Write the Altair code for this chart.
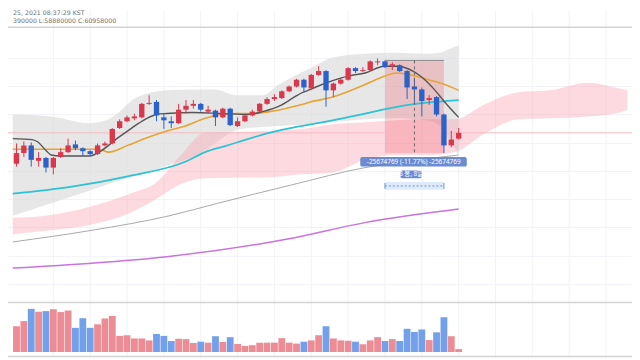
import altair as alt
import pandas as pd

# ---------------- data (price in 10,000 KRW units) ----------------
idx = list(range(61))
opens = [5840, 5928, 5992, 5864, 5888, 5808, 5896, 5936, 6000, 5968, 5944, 5920, 5992, 6008, 6136, 6192,
         6216, 6224, 6336, 6352, 6224, 6192, 6176, 6288, 6320, 6336, 6272, 6280, 6224, 6296, 6152, 6192,
         6240, 6272, 6336, 6376, 6384, 6440, 6480, 6536, 6464, 6576, 6608, 6448, 6504, 6536, 6632, 6608,
         6616, 6680, 6688, 6648, 6656, 6608, 6480, 6456, 6368, 6392, 6248, 5992, 6048]
highs = [6008, 6024, 6016, 5936, 5896, 5896, 5968, 6048, 6032, 5976, 5952, 6008, 6024, 6136, 6208, 6240,
         6256, 6344, 6408, 6368, 6256, 6232, 6336, 6368, 6368, 6344, 6320, 6288, 6304, 6304, 6224, 6248,
         6288, 6344, 6392, 6416, 6448, 6488, 6544, 6544, 6584, 6648, 6616, 6512, 6544, 6640, 6640, 6640,
         6696, 6712, 6696, 6680, 6664, 6616, 6552, 6472, 6408, 6400, 6256, 6112, 6136]
lows = [5816, 5896, 5816, 5816, 5768, 5752, 5888, 5928, 5952, 5904, 5912, 5912, 5984, 6000, 6128, 6184,
        6200, 6216, 6328, 6192, 6128, 6136, 6168, 6256, 6296, 6272, 6256, 6152, 6216, 6152, 6144, 6184,
        6232, 6264, 6328, 6360, 6376, 6432, 6472, 6432, 6456, 6568, 6312, 6392, 6496, 6528, 6592, 6600,
        6608, 6656, 6632, 6616, 6600, 6376, 6336, 6232, 6328, 6232, 5928, 5976, 6040]
closes = [5928, 5992, 5872, 5888, 5808, 5888, 5936, 5992, 5968, 5944, 5920, 5992, 6008, 6128, 6192, 6224,
          6232, 6336, 6344, 6240, 6200, 6176, 6288, 6320, 6336, 6288, 6288, 6224, 6296, 6160, 6192, 6240,
          6272, 6336, 6376, 6392, 6440, 6480, 6536, 6472, 6576, 6608, 6448, 6504, 6536, 6632, 6608, 6616,
          6688, 6688, 6640, 6664, 6608, 6472, 6456, 6360, 6384, 6248, 5992, 6040, 6096]
volumes = [80, 96, 134, 125, 127, 133, 124, 129, 75, 105, 75, 86, 104, 112, 50, 52, 42, 42, 36, 56, 50,
           34, 41, 40, 28, 32, 29, 49, 31, 46, 25, 19, 21, 29, 29, 29, 43, 29, 26, 32, 36, 52, 80, 42,
           36, 35, 32, 24, 36, 46, 34, 40, 34, 72, 62, 70, 37, 61, 108, 49, 9]

ma5_i = [-0.5, 2.1, 2.8, 4.1, 4.7, 6.0, 9.9, 11.2, 12.5, 13.8, 15.1, 16.4, 17.7, 19.0, 20.4, 24.0, 27.8,
         31.4, 33.4, 36.0, 37.9, 38.6, 39.9, 40.8, 42.9, 45.1, 47.3, 49.9, 51.6, 53.8, 55.1, 56.8, 58.1, 60.0]
ma5_v = [6048, 6040, 6024, 5944, 5912, 5904, 5904, 5936, 5992, 6056, 6112, 6168, 6216, 6248, 6256, 6264,
         6256, 6248, 6272, 6328, 6400, 6424, 6456, 6480, 6528, 6568, 6592, 6648, 6648, 6608, 6552, 6448,
         6352, 6224]
ma20_i = [-0.5, 11.2, 12.5, 15.1, 17.7, 20.4, 22.9, 25.6, 27.8, 29.9, 32.1, 34.3, 36.4, 38.6, 39.9, 42.9,
          47.3, 49.4, 51.6, 52.9, 55.9, 58.1, 60.0]
ma20_v = [5960, 5960, 5936, 5992, 6056, 6112, 6152, 6216, 6248, 6256, 6256, 6272, 6296, 6328, 6352, 6392,
          6496, 6552, 6592, 6584, 6536, 6496, 6448]
ma60_i = [-0.5, 7.3, 15.1, 22.9, 25.6, 28.2, 29.9, 34.3, 38.6, 42.9, 47.3, 51.6, 54.2, 56.8, 60.0]
ma60_v = [5592, 5648, 5736, 5856, 5936, 5984, 6016, 6096, 6152, 6200, 6256, 6312, 6336, 6352, 6368]
ma120_i = [-0.5, 10.2, 20.7, 27.3, 37.3, 47.3, 52.5, 60.0]
ma120_v = [5192, 5288, 5408, 5512, 5664, 5808, 5856, 5912]
ma200_i = [-0.5, 10.2, 20.7, 36.8, 47.3, 60.0]
ma200_v = [4976, 5016, 5072, 5216, 5352, 5464]

bb_i = [-0.5, 4.7, 9.9, 12.5, 16.4, 20.4, 24.5, 26.9, 29.9, 33.4, 35.6, 37.7, 39.9, 42.9, 47.3, 51.6,
        55.5, 57.5, 58.8, 60.0]
bb_up = [6248, 6232, 6176, 6208, 6392, 6448, 6456, 6456, 6408, 6408, 6496, 6568, 6632, 6720, 6752, 6760,
         6752, 6760, 6792, 6824]
bb_lo = [5408, 5512, 5616, 5672, 5744, 5824, 5912, 6008, 6120, 6144, 6152, 6160, 6168, 6184, 6208, 6216,
         6200, 6152, 6032, 5912]

cl_i = [-0.5, 4.7, 10.2, 15.4, 19.05, 22.3, 25.6, 34.3, 38.6, 42.9, 47.3, 51.6, 55.5, 59.4, 63.7, 68.1,
        72.4, 77.6, 81.2, 82.9]
cl_top = [5392, 5416, 5488, 5592, 5688, 5912, 6096, 6112, 6128, 6168, 6184, 6200, 6208, 6208, 6336, 6432,
          6448, 6512, 6472, 6448]
cl_bot = [5256, 5288, 5336, 5432, 5552, 5672, 5720, 5728, 5752, 5768, 5872, 5912, 5912, 5936, 6096, 6208,
          6216, 6232, 6256, 6288]

grid_x = [5, 10, 15, 20, 25, 30, 35, 40, 45, 50, 55, 60, 65, 70, 75, 80]
grid_p = [6712, 6480, 6248, 6008, 5776, 5544, 5312, 5072, 4840]

last_price = 6096
range_start, range_end, range_mid = 50, 58, 54
range_high, range_low = 6696, 5928

header1 = "25, 2021 08:37:29 KST"
header2 = "390000 L:58880000 C:60958000"
label1 = "-25674769 (-11.77%) -25674769"
label2 = "8 봉, 8일"

# ---------------- chart ----------------
RED, BLUE = "#d9374b", "#2a62c9"
VRED, VBLUE = "#ec8d96", "#73a0ea"

xs = alt.Scale(domain=[-0.4818, 82.85], nice=False, zero=False)
ps = alt.Scale(domain=[4232, 7112], nice=False, zero=False)


def X(f="i"):
    return alt.X(f"{f}:Q", scale=xs, axis=None)


def Y(f="p"):
    return alt.Y(f"{f}:Q", scale=ps, axis=None)


cdf = pd.DataFrame({"i": idx, "o": opens, "h": highs, "l": lows, "c": closes, "v": volumes})
up = "datum.c >= datum.o"

grid_v = alt.Chart(pd.DataFrame({"i": grid_x})).mark_rule(color="#f1f3f8", strokeWidth=1).encode(x=X())
grid_h = alt.Chart(pd.DataFrame({"p": grid_p})).mark_rule(color="#f1f3f8", strokeWidth=1).encode(y=Y())

bb = alt.Chart(pd.DataFrame({"i": bb_i, "a": bb_up, "b": bb_lo})).mark_area(
    color="#d9d9d9", opacity=0.62, interpolate="monotone").encode(x=X(), y=Y("a"), y2="b")
cloud = alt.Chart(pd.DataFrame({"i": cl_i, "a": cl_top, "b": cl_bot})).mark_area(
    color="#f7a8b5", opacity=0.42, interpolate="monotone").encode(x=X(), y=Y("a"), y2="b")

box = alt.Chart(pd.DataFrame({"i": [range_start], "j": [range_end], "a": [range_high], "b": [range_low]})).mark_rect(
    color="#f23645", opacity=0.22).encode(x=X(), x2="j", y=Y("a"), y2="b")
box_top = alt.Chart(pd.DataFrame({"i": [range_start], "j": [range_end], "p": [range_high]})).mark_rule(
    color="#8a8a8a", strokeWidth=1).encode(x=X(), x2="j", y=Y())
box_mid = alt.Chart(pd.DataFrame({"i": [range_mid], "a": [range_high], "b": [range_low]})).mark_rule(
    color="#666666", strokeWidth=1, strokeDash=[3, 3]).encode(x=X(), y=Y("a"), y2="b")

price_line = alt.Chart(pd.DataFrame({"p": [last_price]})).mark_rule(color="#f5b9c0", strokeWidth=1).encode(y=Y())


def line(ii, vv, color, w):
    return alt.Chart(pd.DataFrame({"i": ii, "p": vv})).mark_line(
        color=color, strokeWidth=w, interpolate="monotone").encode(x=X(), y=Y())


l200 = line(ma200_i, ma200_v, "#c873e0", 1.5)
l120 = line(ma120_i, ma120_v, "#a8a8a8", 1)
l60 = line(ma60_i, ma60_v, "#2cc3d5", 1.8)
l20 = line(ma20_i, ma20_v, "#e6a532", 1.6)
l5 = line(ma5_i, ma5_v, "#555555", 1.4)

wicks = alt.Chart(cdf).mark_rule(strokeWidth=1).encode(
    x=X(), y=Y("l"), y2="h", color=alt.condition(up, alt.value(RED), alt.value(BLUE)))
bodies = alt.Chart(cdf).mark_bar(size=5.4).encode(
    x=X(), y=Y("o"), y2="c", color=alt.condition(up, alt.value(RED), alt.value(BLUE)))

lab1_box = alt.Chart(pd.DataFrame({"i": [46.65], "j": [61.1], "a": [5896], "b": [5816]})).mark_rect(
    color="#5b7fcf", opacity=0.9, cornerRadius=2).encode(x=X(), x2="j", y=Y("a"), y2="b")
lab1_txt = alt.Chart(pd.DataFrame({"i": [53.9], "p": [5856], "t": [label1]})).mark_text(
    color="white", fontSize=6.5, font="Noto Sans", align="center", baseline="middle").encode(x=X(), y=Y(), text="t:N")
lab2_box = alt.Chart(pd.DataFrame({"i": [52.1], "j": [55.0], "a": [5784], "b": [5720]})).mark_rect(
    color="#5b7fcf", opacity=0.9, cornerRadius=2).encode(x=X(), x2="j", y=Y("a"), y2="b")
lab2_txt = alt.Chart(pd.DataFrame({"i": [53.55], "p": [5752], "t": [label2]})).mark_text(
    color="white", fontSize=6.5, font="Noto Sans CJK KR", align="center", baseline="middle").encode(x=X(), y=Y(), text="t:N")

strip = alt.Chart(pd.DataFrame({"i": [range_start], "j": [range_end], "a": [5688], "b": [5624]})).mark_rect(
    color="#dce8fb", opacity=0.9).encode(x=X(), x2="j", y=Y("a"), y2="b")
strip_line = alt.Chart(pd.DataFrame({"i": [range_start], "j": [range_end], "p": [5656]})).mark_rule(
    color="#6d93dc", strokeWidth=1, strokeDash=[2, 2]).encode(x=X(), x2="j", y=Y())
strip_ends = alt.Chart(pd.DataFrame({"i": [range_start, range_end], "a": [5680, 5680], "b": [5632, 5632]})).mark_rule(
    color="#6d93dc", strokeWidth=1).encode(x=X(), y=Y("a"), y2="b")

seps = alt.Chart(pd.DataFrame({"p": [6970, 4690, 4242]})).mark_rule(color="#d3d3d3", strokeWidth=1.5).encode(y=Y())

head = alt.Chart(pd.DataFrame({"i": [-0.46, -0.46], "p": [7087, 7022], "t": [header1, header2]})).mark_text(
    color="#707070", fontSize=6.3, font="DejaVu Sans", align="left", baseline="middle").encode(x=X(), y=Y(), text="t:N")

price = alt.layer(grid_v, grid_h, bb, cloud, box, price_line, l200, l120, l60, l20, l5,
                  wicks, bodies, box_top, box_mid, lab1_box, lab1_txt, lab2_box, lab2_txt,
                  strip, strip_line, strip_ends, seps, head)

vol = alt.Chart(cdf).mark_bar(size=6.9).encode(
    x=X(),
    y=alt.Y("v:Q", scale=alt.Scale(domain=[0, 150], range=[346.13, 297.24]), axis=None),
    color=alt.condition(up, alt.value(VRED), alt.value(VBLUE)))

chart = alt.layer(price, vol).resolve_scale(y="independent").properties(
    width=632, height=352, padding=0, autosize=alt.AutoSizeParams(type="none"),
    background="white").configure_view(strokeWidth=0)

chart.save("out.html", embed_options={"renderer": "svg", "actions": False})
